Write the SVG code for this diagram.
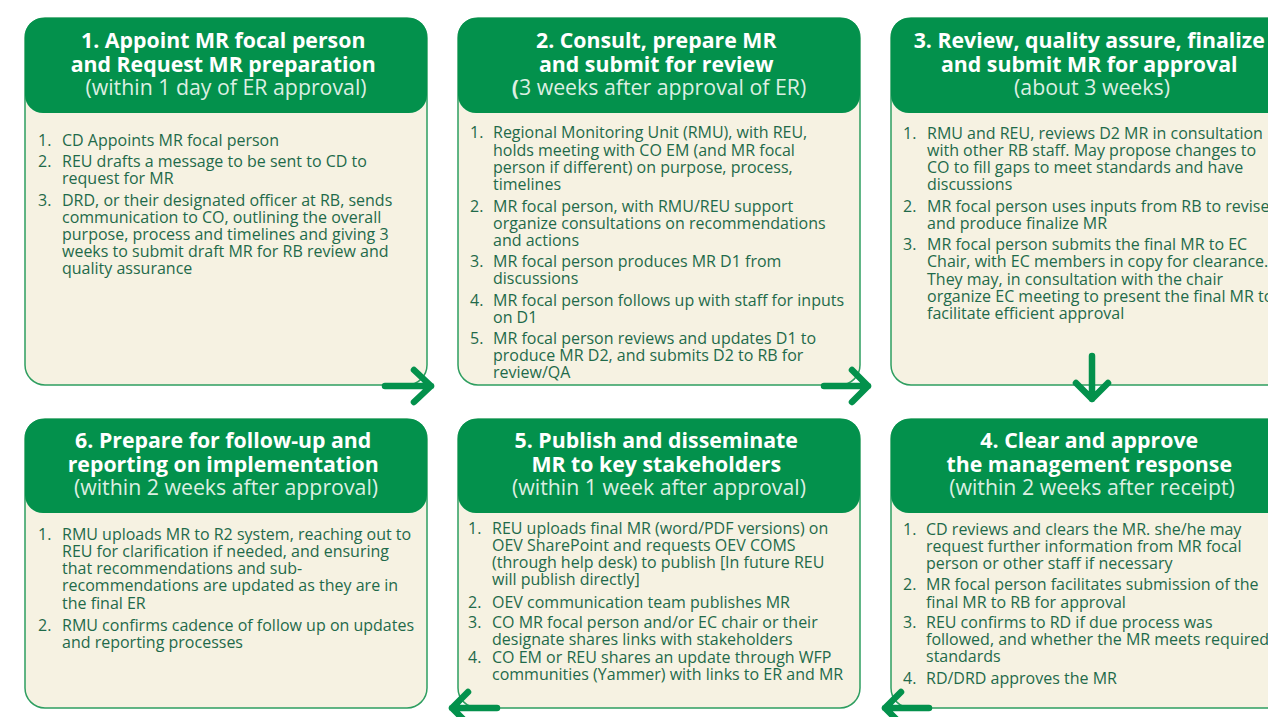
<svg xmlns="http://www.w3.org/2000/svg" width="1268" height="717" viewBox="0 0 1268 717">
  <defs>
    <style>
      .card { fill: #f6f2e2; stroke: #2e9e60; stroke-width: 1.5; }
      .head { fill: #03914c; }
      .h { font-family: "Open Sans", "Noto Sans", sans-serif; font-size: 21.3px; text-anchor: middle; }
      .t1 { font-weight: 700; fill: #ffffff; }
      .t2 { font-weight: 400; fill: #dcefe2; }
      .b { font-family: "Open Sans", "Noto Sans", sans-serif; font-size: 16px; fill: #1f6a4a; }
      .arrow { fill: none; stroke: #03914c; stroke-width: 6.5; stroke-linecap: round; stroke-linejoin: round; }
    </style>
  </defs>
  <rect width="1268" height="717" fill="#ffffff"/>

  <!-- Step 1 -->
  <g id="step1">
    <rect class="card" x="25" y="18" width="402" height="367" rx="20"/>
    <rect class="head" x="25" y="18" width="402" height="95" rx="18"/>
    <text class="h">
      <tspan class="t1" x="226" y="48">1. Appoint MR focal person</tspan>
      <tspan class="t1" x="226" y="72">and Request MR preparation</tspan>
      <tspan class="t2" x="226" y="95">(within 1 day of ER approval)</tspan>
    </text>
    <text class="b">
      <tspan x="38" y="146">1.</tspan><tspan x="62" y="146">CD Appoints MR focal person</tspan>
      <tspan x="38" y="167">2.</tspan><tspan x="62" y="167">REU drafts a message to be sent to CD to</tspan>
      <tspan x="62" y="184">request for MR</tspan>
      <tspan x="38" y="205.5">3.</tspan><tspan x="62" y="205.5">DRD, or their designated officer at RB, sends</tspan>
      <tspan x="62" y="222.5">communication to CO, outlining the overall</tspan>
      <tspan x="62" y="240">purpose, process and timelines and giving 3</tspan>
      <tspan x="62" y="257">weeks to submit draft MR for RB review and</tspan>
      <tspan x="62" y="274">quality assurance</tspan>
    </text>
  </g>

  <!-- Step 2 -->
  <g id="step2">
    <rect class="card" x="458" y="18" width="402" height="367" rx="20"/>
    <rect class="head" x="458" y="18" width="402" height="95" rx="18"/>
    <text class="h">
      <tspan class="t1" x="659" y="48">2. Consult, prepare MR</tspan>
      <tspan class="t1" x="659" y="72">and submit for review</tspan>
      <tspan class="t2" x="659" y="95"><tspan font-weight="700">(</tspan>3 weeks after approval of ER)</tspan>
    </text>
    <text class="b">
      <tspan x="470" y="138">1.</tspan><tspan x="493" y="138">Regional Monitoring Unit (RMU), with REU,</tspan>
      <tspan x="493" y="155.5">holds meeting with CO EM (and MR focal</tspan>
      <tspan x="493" y="173">person if different) on purpose, process,</tspan>
      <tspan x="493" y="190">timelines</tspan>
      <tspan x="470" y="211.5">2.</tspan><tspan x="493" y="211.5">MR focal person, with RMU/REU support</tspan>
      <tspan x="493" y="229">organize consultations on recommendations</tspan>
      <tspan x="493" y="246">and actions</tspan>
      <tspan x="470" y="267">3.</tspan><tspan x="493" y="267">MR focal person produces MR D1 from</tspan>
      <tspan x="493" y="284">discussions</tspan>
      <tspan x="470" y="305.5">4.</tspan><tspan x="493" y="305.5">MR focal person follows up with staff for inputs</tspan>
      <tspan x="493" y="323">on D1</tspan>
      <tspan x="470" y="344">5.</tspan><tspan x="493" y="344">MR focal person reviews and updates D1 to</tspan>
      <tspan x="493" y="361">produce MR D2, and submits D2 to RB for</tspan>
      <tspan x="493" y="378">review/QA</tspan>
    </text>
  </g>

  <!-- Step 3 -->
  <g id="step3">
    <rect class="card" x="891" y="18" width="402" height="367" rx="20"/>
    <rect class="head" x="891" y="18" width="402" height="95" rx="18"/>
    <text class="h">
      <tspan class="t1" x="1092" y="48">3. Review, quality assure, finalize</tspan>
      <tspan class="t1" x="1092" y="72">and submit MR for approval</tspan>
      <tspan class="t2" x="1092" y="95">(about 3 weeks)</tspan>
    </text>
    <text class="b">
      <tspan x="903" y="139">1.</tspan><tspan x="927" y="139">RMU and REU, reviews D2 MR in consultation</tspan>
      <tspan x="927" y="156">with other RB staff. May propose changes to</tspan>
      <tspan x="927" y="173">CO to fill gaps to meet standards and have</tspan>
      <tspan x="927" y="190">discussions</tspan>
      <tspan x="903" y="211.5">2.</tspan><tspan x="927" y="211.5">MR focal person uses inputs from RB to revise</tspan>
      <tspan x="927" y="229">and produce finalize MR</tspan>
      <tspan x="903" y="250">3.</tspan><tspan x="927" y="250">MR focal person submits the final MR to EC</tspan>
      <tspan x="927" y="267">Chair, with EC members in copy for clearance.</tspan>
      <tspan x="927" y="284.5">They may, in consultation with the chair</tspan>
      <tspan x="927" y="302">organize EC meeting to present the final MR to</tspan>
      <tspan x="927" y="319">facilitate efficient approval</tspan>
    </text>
  </g>

  <!-- Step 4 -->
  <g id="step4">
    <rect class="card" x="891" y="419" width="402" height="289" rx="20"/>
    <rect class="head" x="891" y="419" width="402" height="94" rx="18"/>
    <text class="h">
      <tspan class="t1" x="1092" y="448">4. Clear and approve</tspan>
      <tspan class="t1" x="1092" y="472">the management response</tspan>
      <tspan class="t2" x="1092" y="495">(within 2 weeks after receipt)</tspan>
    </text>
    <text class="b">
      <tspan x="903" y="535">1.</tspan><tspan x="926" y="535">CD reviews and clears the MR. she/he may</tspan>
      <tspan x="926" y="552">request further information from MR focal</tspan>
      <tspan x="926" y="569">person or other staff if necessary</tspan>
      <tspan x="903" y="590">2.</tspan><tspan x="926" y="590">MR focal person facilitates submission of the</tspan>
      <tspan x="926" y="607.5">final MR to RB for approval</tspan>
      <tspan x="903" y="628">3.</tspan><tspan x="926" y="628">REU confirms to RD if due process was</tspan>
      <tspan x="926" y="645">followed, and whether the MR meets required</tspan>
      <tspan x="926" y="662">standards</tspan>
      <tspan x="903" y="684">4.</tspan><tspan x="926" y="684">RD/DRD approves the MR</tspan>
    </text>
  </g>

  <!-- Step 5 -->
  <g id="step5">
    <rect class="card" x="458" y="419" width="402" height="289" rx="20"/>
    <rect class="head" x="458" y="419" width="402" height="94" rx="18"/>
    <text class="h">
      <tspan class="t1" x="659" y="448">5. Publish and disseminate</tspan>
      <tspan class="t1" x="659" y="472">MR to key stakeholders</tspan>
      <tspan class="t2" x="659" y="495">(within 1 week after approval)</tspan>
    </text>
    <text class="b">
      <tspan x="468" y="534">1.</tspan><tspan x="492" y="534">REU uploads final MR (word/PDF versions) on</tspan>
      <tspan x="492" y="551">OEV SharePoint and requests OEV COMS</tspan>
      <tspan x="492" y="568">(through help desk) to publish [In future REU</tspan>
      <tspan x="492" y="585">will publish directly]</tspan>
      <tspan x="468" y="607.5">2.</tspan><tspan x="492" y="607.5">OEV communication team publishes MR</tspan>
      <tspan x="468" y="628">3.</tspan><tspan x="492" y="628">CO MR focal person and/or EC chair or their</tspan>
      <tspan x="492" y="645">designate shares links with stakeholders</tspan>
      <tspan x="468" y="663">4.</tspan><tspan x="492" y="663">CO EM or REU shares an update through WFP</tspan>
      <tspan x="492" y="680">communities (Yammer) with links to ER and MR</tspan>
    </text>
  </g>

  <!-- Step 6 -->
  <g id="step6">
    <rect class="card" x="25" y="419" width="402" height="289" rx="20"/>
    <rect class="head" x="25" y="419" width="402" height="94" rx="18"/>
    <text class="h">
      <tspan class="t1" x="226" y="448">6. Prepare for follow-up and</tspan>
      <tspan class="t1" x="226" y="472">reporting on implementation</tspan>
      <tspan class="t2" x="226" y="495">(within 2 weeks after approval)</tspan>
    </text>
    <text class="b">
      <tspan x="38" y="540">1.</tspan><tspan x="62" y="540">RMU uploads MR to R2 system, reaching out to</tspan>
      <tspan x="62" y="557">REU for clarification if needed, and ensuring</tspan>
      <tspan x="62" y="574">that recommendations and sub-</tspan>
      <tspan x="62" y="591">recommendations are updated as they are in</tspan>
      <tspan x="62" y="608.5">the final ER</tspan>
      <tspan x="38" y="630.5">2.</tspan><tspan x="62" y="630.5">RMU confirms cadence of follow up on updates</tspan>
      <tspan x="62" y="648">and reporting processes</tspan>
    </text>
  </g>

  <!-- Flow arrows between steps -->
  <g id="connectors">
    <path class="arrow" d="M385 386 H431 M414 370 L431 386 L414 402"/>
    <path class="arrow" d="M824 386 H868 M852 370 L868 386 L852 402"/>
    <path class="arrow" d="M1092 356 V399 M1076 383 L1092 399 L1108 383"/>
    <path class="arrow" d="M929 708 H885 M901 692 L885 708 L901 724"/>
    <path class="arrow" d="M497 708 H452 M468 692 L452 708 L468 724"/>
  </g>
</svg>
